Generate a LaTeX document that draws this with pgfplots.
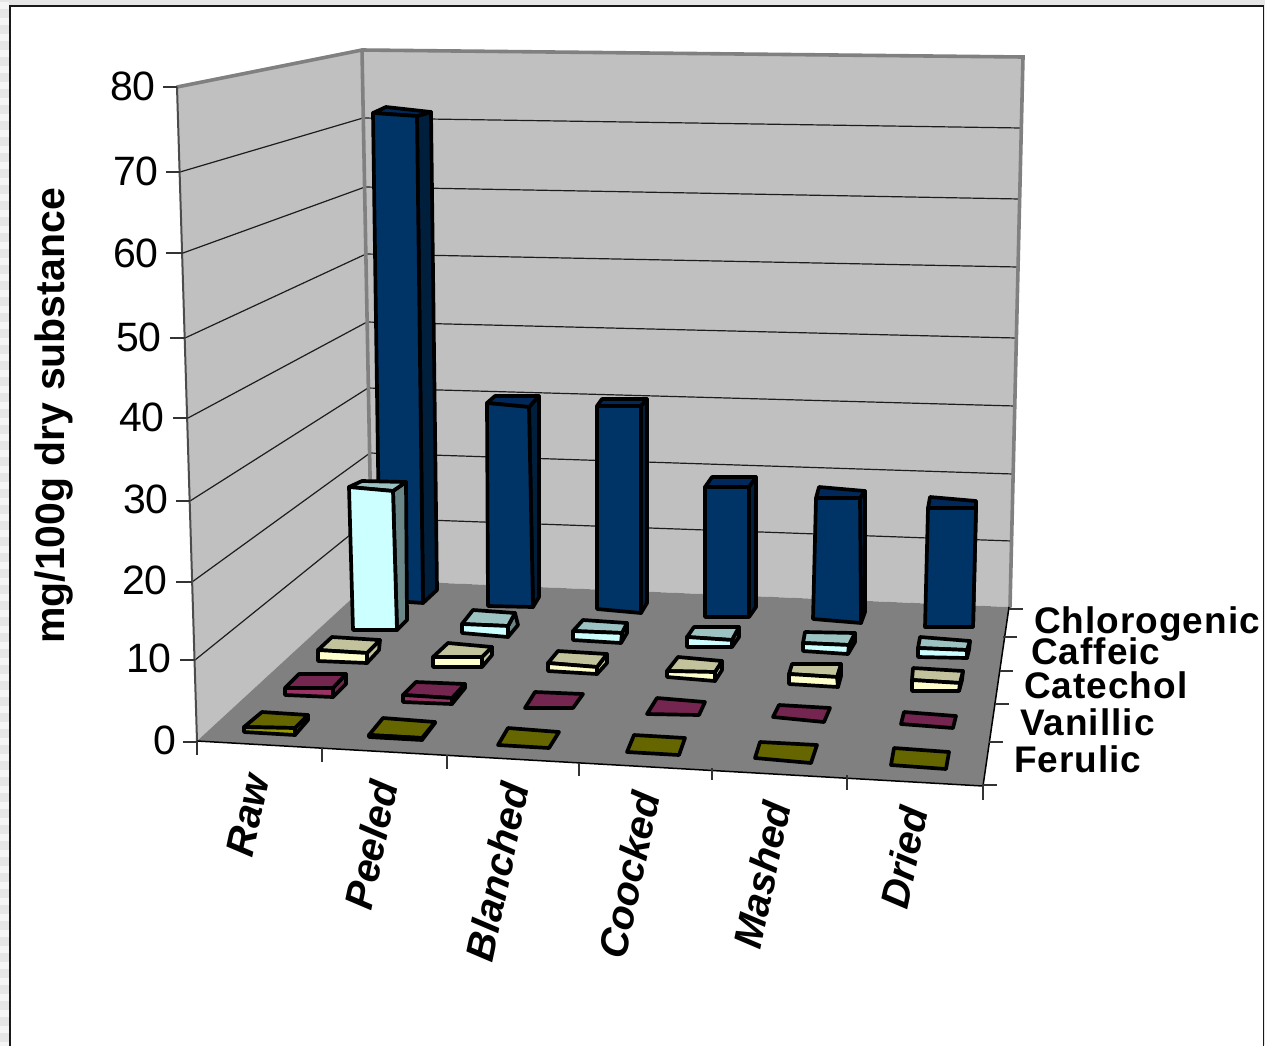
\documentclass[border=0pt]{standalone}
\usepackage{fontspec}
\setmainfont{Liberation Sans}
\usepackage{pgfplots}
\pgfplotsset{compat=1.18}

% Series colours: front, side and top faces of the columns
\definecolor{chloF}{HTML}{003366}\definecolor{chloS}{HTML}{001F3D}\definecolor{chloT}{HTML}{00285A}
\definecolor{caffF}{HTML}{CCFFFF}\definecolor{caffS}{HTML}{6B8686}\definecolor{caffT}{HTML}{9CC2C2}
\definecolor{cateF}{HTML}{FFFFCC}\definecolor{cateS}{HTML}{C2C29C}\definecolor{cateT}{HTML}{C2C29C}
\definecolor{vaniF}{HTML}{993366}\definecolor{vaniS}{HTML}{752650}\definecolor{vaniT}{HTML}{752650}
\definecolor{ferF}{HTML}{999900}\definecolor{ferS}{HTML}{666600}\definecolor{ferT}{HTML}{666600}
\definecolor{wall}{HTML}{C0C0C0}
\definecolor{floorc}{HTML}{808080}
\definecolor{window}{HTML}{E6E6E6}

\pgfplotsset{
  face/.style={draw=black, line width=3.7pt, line join=round, fill=#1},
  gridl/.style={draw=black!85!wall, line width=1.2pt},
  tickl/.style={draw=black!80, line width=1.2pt},
  edgel/.style={draw=floorc, line width=3.6pt, line cap=round}
}

% A column: family, front face, side face, top face
\newcommand{\column}[4]{%
  \addplot[face=#1S] coordinates {#3} --cycle;
  \addplot[face=#1T] coordinates {#4} --cycle;
  \addplot[face=#1F] coordinates {#2} --cycle;
}
% A column too short to show anything but its top
\newcommand{\flatcolumn}[2]{\addplot[face=#1T] coordinates {#2} --cycle;}

\newcommand{\fs}[1]{\fontsize{#1}{#1}\selectfont}

\begin{document}
\begin{tikzpicture}
\begin{axis}[
  at={(0,0)}, anchor=south west,
  scale only axis, width=1265pt, height=1045pt,
  xmin=0, xmax=1265, ymin=0, ymax=1045, y dir=reverse,
  axis lines=none, clip=true
]
% surrounding window
\addplot[draw=none, fill=window] coordinates {(0,0) (1265,0) (1265,1045) (0,1045)} --cycle;
\pgfplotsinvokeforeach{5,21,...,1040}{
  \addplot[draw=black!4, line width=7pt] coordinates {(0,#1) (9,#1)};
}
\addplot[draw=black!90, fill=white, line width=1.6pt] coordinates {(10,6) (1263.5,6) (1263.5,1050) (10,1050)} --cycle;

% walls and floor
\addplot[draw=none, fill=wall] coordinates {(177,87) (362,50) (372,580) (197,741)} --cycle;
\addplot[draw=none, fill=wall] coordinates {(362,50) (1023,57) (1010,607) (372,580)} --cycle;
\addplot[draw=none, fill=floorc] coordinates {(197,741) (372,580) (1009,607) (983,786)} --cycle;

% gridlines on the left wall
\addplot[gridl] coordinates {(180,172) (363,118)};
\addplot[gridl] coordinates {(183,253) (365,187)};
\addplot[gridl] coordinates {(185,338) (366,254)};
\addplot[gridl] coordinates {(188,418) (367,322)};
\addplot[gridl] coordinates {(190,501) (368,388)};
\addplot[gridl] coordinates {(192,582) (370,453)};
\addplot[gridl] coordinates {(195,660) (371,518)};
% gridlines on the back wall
\addplot[gridl] coordinates {(363,118) (1021,128)};
\addplot[gridl] coordinates {(365,187) (1020,199)};
\addplot[gridl] coordinates {(366,254) (1018,267)};
\addplot[gridl] coordinates {(367,322) (1016,338)};
\addplot[gridl] coordinates {(368,388) (1015,406)};
\addplot[gridl] coordinates {(370,453) (1013,474)};
\addplot[gridl] coordinates {(371,518) (1012,541)};

% wall edges
\addplot[edgel] coordinates {(177,87) (362,50) (1023,57) (1010,607)};
\addplot[edgel] coordinates {(362,50) (372,580)};
\addplot[draw=black!70, line width=2pt] coordinates {(177,87) (197,741)};
\addplot[draw=black, line width=1.5pt] coordinates {(197,741) (983,786) (1009,607)};

% vertical axis ticks
\addplot[tickl] coordinates {(163,87) (177,87)};
\addplot[tickl] coordinates {(166,172) (180,172)};
\addplot[tickl] coordinates {(166,253) (183,253)};
\addplot[tickl] coordinates {(170,338) (185,338)};
\addplot[tickl] coordinates {(173,418) (188,418)};
\addplot[tickl] coordinates {(176,501) (190,501)};
\addplot[tickl] coordinates {(176,582) (192,582)};
\addplot[tickl] coordinates {(180,660) (195,660)};
\addplot[tickl] coordinates {(183,742) (197,742)};
% category ticks
\addplot[tickl] coordinates {(197,741) (197,755)};
\addplot[tickl] coordinates {(322,748) (322,762)};
\addplot[tickl] coordinates {(447,755) (447,769)};
\addplot[tickl] coordinates {(579,763) (579,776)};
\addplot[tickl] coordinates {(712,768) (712,780)};
\addplot[tickl] coordinates {(847,775) (847,790)};
\addplot[tickl] coordinates {(983,785) (983,800)};
% series ticks
\addplot[tickl] coordinates {(1009,609) (1023,609)};
\addplot[tickl] coordinates {(1003,637) (1017,637)};
\addplot[tickl] coordinates {(1000,671) (1013,671)};
\addplot[tickl] coordinates {(995,704) (1009,704)};
\addplot[tickl] coordinates {(989,742) (1003,742)};
\addplot[tickl] coordinates {(983,785) (997,785)};

% Chlorogenic row
\column{chlo}{(373,113) (417,116) (423,603) (380,600)}{(417,116) (431,112) (437,590) (423,603)}{(373,113) (386,107) (431,112) (417,116)}
\column{chlo}{(487,403) (529,407) (533,607) (488,606)}{(529,407) (539,396) (539,597) (533,607)}{(487,403) (495,396) (539,396) (529,407)}
\column{chlo}{(597,406) (641,406) (641,613) (597,609)}{(641,406) (647,399) (647,603) (641,613)}{(597,406) (602,399) (647,399) (641,406)}
\column{chlo}{(705,487) (749,487) (749,617) (705,617)}{(749,487) (756,477) (756,607) (749,617)}{(705,487) (712,477) (756,477) (749,487)}
\column{chlo}{(816,498) (860,498) (861,623) (813,619)}{(860,498) (865,491) (865,612) (861,623)}{(816,498) (819,487) (865,491) (860,498)}
\column{chlo}{(928,508) (976,508) (973,627) (925,627)}{(976,508) (976,501) (976,508) (973,627)}{(928,508) (930,497) (976,501) (976,508)}

% Caffeic row
\column{caff}{(349,487) (393,491) (397,630) (353,630)}{(393,491) (406,482) (407,620) (397,630)}{(349,487) (362,481) (406,482) (393,491)}
\column{caff}{(462,624) (508,626) (508,637) (462,633)}{(508,626) (515,613) (518,625) (508,637)}{(462,624) (473,610) (515,613) (508,626)}
\column{caff}{(573,631) (622,633) (621,643) (573,640)}{(622,633) (627,623) (627,633) (621,643)}{(573,631) (583,620) (627,623) (622,633)}
\column{caff}{(687,637) (732,640) (732,647) (687,647)}{(732,640) (739,627) (739,637) (732,647)}{(687,637) (694,627) (739,627) (732,640)}
\column{caff}{(803,643) (849,645) (848,654) (803,651)}{(849,645) (855,633) (855,642) (848,654)}{(803,643) (805,632) (855,633) (849,645)}
\column{caff}{(918,648) (967,650) (967,658) (918,657)}{(967,650) (970,641) (969,650) (967,658)}{(918,648) (920,637) (970,641) (967,650)}

% Catechol row
\column{cate}{(318,650) (367,653) (367,663) (318,661)}{(367,653) (380,640) (379,650) (367,663)}{(318,650) (332,637) (380,640) (367,653)}
\column{cate}{(433,657) (482,657) (482,667) (433,667)}{(482,657) (492,647) (492,655) (482,667)}{(433,657) (448,643) (492,647) (482,657)}
\column{cate}{(548,663) (597,667) (597,674) (548,671)}{(597,667) (607,654) (607,663) (597,674)}{(548,663) (558,651) (607,654) (597,667)}
\column{cate}{(667,671) (715,672) (715,681) (667,677)}{(715,672) (722,661) (722,670) (715,681)}{(667,671) (678,657) (722,661) (715,672)}
\column{cate}{(789,674) (837,677) (838,687) (789,684)}{(837,677) (841,664) (841,676) (838,687)}{(789,674) (792,664) (841,664) (837,677)}
\column{cate}{(912,680) (960,683) (959,691) (912,691)}{(960,683) (963,671) (962,680) (959,691)}{(912,680) (913,668) (963,671) (960,683)}

% Vanillic row
\column{vani}{(285,688) (333,688) (333,697) (285,695)}{(333,688) (346,674) (346,684) (333,697)}{(285,688) (299,674) (346,674) (333,688)}
\column{vani}{(403,695) (452,698) (452,704) (403,702)}{(452,698) (465,684) (465,688) (452,704)}{(403,695) (416,682) (465,684) (452,698)}
\flatcolumn{vani}{(535,692) (583,694) (573,708) (525,708)}
\flatcolumn{vani}{(657,698) (705,702) (699,715) (647,714)}
\flatcolumn{vani}{(779,705) (830,708) (824,722) (773,717)}
\flatcolumn{vani}{(904,712) (956,716) (953,728) (901,724)}

% Ferulic row
\column{fer}{(244,727) (295,728) (295,735) (244,732)}{(295,728) (308,715) (308,720) (295,735)}{(244,727) (262,712) (308,715) (295,728)}
\column{fer}{(369,735) (422,738) (422,740) (369,737)}{(422,738) (435,722) (435,723) (422,740)}{(369,735) (383,718) (435,722) (422,738)}
\flatcolumn{fer}{(508,728) (559,732) (549,748) (498,745)}
\flatcolumn{fer}{(634,735) (685,738) (679,755) (627,752)}
\flatcolumn{fer}{(760,742) (817,745) (811,763) (755,758)}
\flatcolumn{fer}{(894,748) (949,752) (946,769) (891,765)}

% value labels
\node[anchor=east, inner sep=0pt] at (axis cs:156,86) {\fs{41}80};
\node[anchor=east, inner sep=0pt] at (axis cs:159,171) {\fs{41}70};
\node[anchor=east, inner sep=0pt] at (axis cs:159,253) {\fs{41}60};
\node[anchor=east, inner sep=0pt] at (axis cs:162,337) {\fs{41}50};
\node[anchor=east, inner sep=0pt] at (axis cs:165,417) {\fs{41}40};
\node[anchor=east, inner sep=0pt] at (axis cs:169,499) {\fs{41}30};
\node[anchor=east, inner sep=0pt] at (axis cs:168,580) {\fs{41}20};
\node[anchor=east, inner sep=0pt] at (axis cs:172,658) {\fs{41}10};
\node[anchor=east, inner sep=0pt] at (axis cs:176,740) {\fs{41}0};

% axis title
\node[rotate=90, inner sep=0pt] at (axis cs:54,416) {\fs{41}\bfseries mg/100g dry substance};

% category labels
\node[rotate=78, inner sep=0pt] at (axis cs:248,815) {\fs{40}\bfseries\itshape Raw};
\node[rotate=78, inner sep=0pt] at (axis cs:371,845) {\fs{40}\bfseries\itshape Peeled};
\node[rotate=78, inner sep=0pt] at (axis cs:497,872) {\fs{40}\bfseries\itshape Blanched};
\node[rotate=78, inner sep=0pt] at (axis cs:629,875) {\fs{40}\bfseries\itshape Coocked};
\node[rotate=78, inner sep=0pt] at (axis cs:762,875) {\fs{40}\bfseries\itshape Mashed};
\node[rotate=78, inner sep=0pt] at (axis cs:904,858) {\fs{40}\bfseries\itshape Dried};

% series labels
\node[anchor=base west, inner sep=0pt] at (axis cs:1034,633) {\fs{37}\bfseries\addfontfeatures{LetterSpace=2.7}Chlorogenic};
\node[anchor=base west, inner sep=0pt] at (axis cs:1031,664) {\fs{37}\bfseries\addfontfeatures{LetterSpace=2.7}Caffeic};
\node[anchor=base west, inner sep=0pt] at (axis cs:1024,698) {\fs{37}\bfseries\addfontfeatures{LetterSpace=2.7}Catechol};
\node[anchor=base west, inner sep=0pt] at (axis cs:1020,735) {\fs{37}\bfseries\addfontfeatures{LetterSpace=2.7}Vanillic};
\node[anchor=base west, inner sep=0pt] at (axis cs:1014,772) {\fs{37}\bfseries\addfontfeatures{LetterSpace=2.7}Ferulic};
\end{axis}
\end{tikzpicture}
\end{document}
